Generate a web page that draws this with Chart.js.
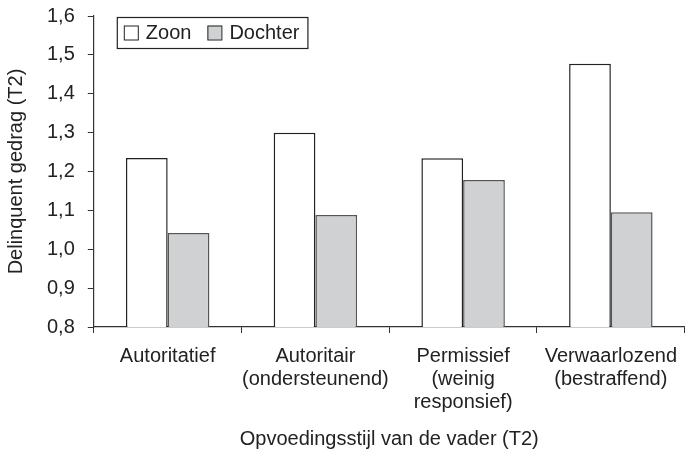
<!DOCTYPE html>
<html>
<head>
<meta charset="utf-8">
<style>
  html, body { margin: 0; padding: 0; background: #fff; }
  #wrap { width: 689px; height: 450px; position: relative; }
</style>
<script src="https://cdn.jsdelivr.net/npm/chart.js@4/dist/chart.umd.min.js"></script>
</head>
<body>
<div id="wrap"><canvas id="chart"></canvas></div>
<script>
const categories = [
  'Autoritatief',
  ['Autoritair', '(ondersteunend)'],
  ['Permissief', '(weinig', 'responsief)'],
  ['Verwaarlozend', '(bestraffend)']
];
const zoon = [1.235, 1.30, 1.234, 1.477];
const dochter = [1.042, 1.088, 1.178, 1.095];
const yTicks = [0.8, 0.9, 1.0, 1.1, 1.2, 1.3, 1.4, 1.5, 1.6];

const FONT = 'Liberation Sans, Arial, Helvetica, sans-serif';
const FS = 20;
Chart.defaults.font.family = FONT;
Chart.defaults.font.size = FS;
Chart.defaults.color = '#222';

// legend drawn inside the plot area, top left
const innerLegend = {
  id: 'innerLegend',
  afterDraw(chart) {
    const { ctx, chartArea } = chart;
    const x0 = chartArea.left + 23, y0 = chartArea.top + 1;
    const h = 31;
    ctx.save();
    ctx.font = FS + 'px ' + FONT;
    ctx.textBaseline = 'middle';
    const items = chart.data.datasets.map(ds => ({ ds, w: ctx.measureText(ds.label).width }));
    let total = 7;
    items.forEach((it, i) => { total += 15 + 7 + it.w + (i < items.length - 1 ? 16 : 8); });
    ctx.fillStyle = '#fff';
    ctx.fillRect(x0, y0, total, h);
    ctx.strokeStyle = '#222';
    ctx.lineWidth = 1.2;
    ctx.strokeRect(x0 + 0.5, y0 + 0.5, total, h);
    let x = x0 + 7;
    items.forEach(it => {
      ctx.fillStyle = it.ds.backgroundColor;
      ctx.fillRect(x, y0 + h / 2 - 7, 14, 14);
      ctx.strokeStyle = '#222';
      ctx.lineWidth = 1;
      ctx.strokeRect(x + 0.5, y0 + h / 2 - 6.5, 14, 14);
      x += 22;
      ctx.fillStyle = '#222';
      ctx.fillText(it.ds.label, x, y0 + h / 2 + 1);
      x += it.w + 16;
    });
    ctx.restore();
  }
};

new Chart(document.getElementById('chart'), {
  type: 'bar',
  data: {
    labels: categories,
    datasets: [
      { label: 'Zoon', data: zoon, backgroundColor: '#ffffff', borderColor: '#222', borderWidth: 1.5 },
      { label: 'Dochter', data: dochter, backgroundColor: '#d0d1d3', borderColor: '#555', borderWidth: 1.5 }
    ]
  },
  options: {
    responsive: true,
    maintainAspectRatio: false,
    animation: false,
    layout: { padding: { top: 0, right: 0, left: 0, bottom: -1 } },
    datasets: { bar: { barPercentage: 1, categoryPercentage: 0.565 } },
    plugins: { legend: { display: false }, tooltip: { enabled: false } },
    scales: {
      x: {
        offset: true,
        grid: { display: true, drawOnChartArea: false, drawTicks: true, tickLength: 6, color: '#333', offset: true },
        border: { color: '#333', width: 1.2 },
        ticks: { color: '#222', maxRotation: 0, autoSkip: false, padding: 12, font: { size: FS, lineHeight: 1.15 } },
        title: { display: true, text: 'Opvoedingsstijl van de vader (T2)', color: '#222', font: { size: FS }, padding: { top: 1, bottom: 0 } }
      },
      y: {
        min: 0.8,
        max: 1.6,
        afterBuildTicks: axis => { axis.ticks = yTicks.map(v => ({ value: v })); },
        grid: { display: true, drawOnChartArea: false, drawTicks: true, tickLength: 6, color: '#333' },
        border: { color: '#333', width: 1.2 },
        ticks: { color: '#222', padding: 13, font: { size: FS, lineHeight: 0.3 }, callback: v => v.toFixed(1).replace('.', ',') },
        title: { display: true, text: 'Delinquent gedrag (T2)', color: '#222', font: { size: FS }, padding: { bottom: 6 } }
      }
    }
  },
  plugins: [innerLegend]
});
</script>
</body>
</html>
